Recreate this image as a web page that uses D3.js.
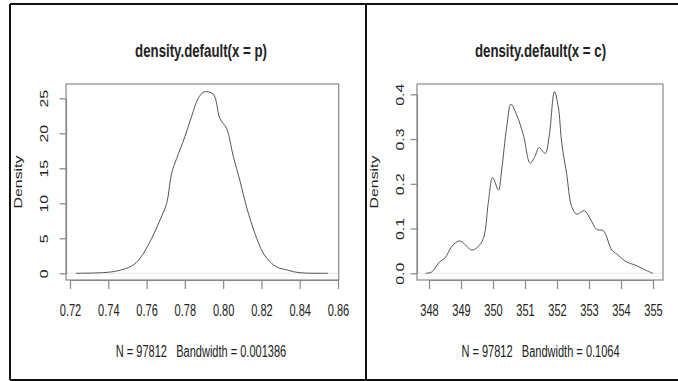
<!DOCTYPE html>
<html>
<head>
<meta charset="utf-8">
<script src="https://cdn.jsdelivr.net/npm/d3@7"></script>
<style>
  body { margin: 0; background: #fff; }
  text { font-family: "Liberation Sans", Arial, Helvetica, sans-serif; fill: #222; white-space: pre; }
</style>
</head>
<body>
<svg id="chart" width="678" height="381"></svg>
<script>
// density of p
const pX = [0.7231, 0.7374, 0.7444, 0.7522, 0.7565, 0.7627, 0.767, 0.7705, 0.7731, 0.7757, 0.780, 0.7835,
  0.787, 0.790, 0.7948, 0.7983, 0.8018, 0.8053, 0.8087, 0.8122, 0.8166, 0.8209, 0.8253, 0.8296, 0.8322,
  0.8366, 0.8418, 0.8548];
const pY = [0, 0.1, 0.33, 1.04, 2.1, 5.0, 7.6, 10.0, 14.3, 16.4, 19.5, 22.4,
  25.0, 25.9, 25.6, 22.1, 20.7, 16.7, 13.3, 9.5, 5.7, 2.9, 1.43, 0.71, 0.57,
  0.24, 0.05, 0];

// density of c
const cX = [347.9, 348.08, 348.34, 348.5, 348.71, 348.92, 349.02, 349.33, 349.51, 349.7, 349.85, 349.99,
  350.17, 350.27, 350.43, 350.56, 350.74, 350.95, 351.16, 351.31, 351.44, 351.63, 351.76, 351.92,
  352.04, 352.15, 352.3, 352.46, 352.62, 352.85, 353.03, 353.24, 353.45, 353.71, 353.87, 354.13,
  354.49, 354.8, 355.0];
const cY = [0, 0.003, 0.026, 0.034, 0.06, 0.072, 0.071, 0.052, 0.058, 0.078, 0.156, 0.214,
  0.186, 0.231, 0.328, 0.378, 0.354, 0.309, 0.246, 0.261, 0.281, 0.268, 0.309, 0.406,
  0.372, 0.29, 0.223, 0.149, 0.132, 0.14, 0.123, 0.098, 0.095, 0.052, 0.043, 0.027,
  0.017, 0.006, 0];

const pTicksX = [0.72, 0.74, 0.76, 0.78, 0.80, 0.82, 0.84, 0.86];
const pTicksY = [0, 5, 10, 15, 20, 25];
const cTicksX = [348, 349, 350, 351, 352, 353, 354, 355];
const cTicksY = [0, 0.1, 0.2, 0.3, 0.4];

const titles = ["density.default(x = p)", "density.default(x = c)"];
const subtitles = ["N = 97812   Bandwidth = 0.001386", "N = 97812   Bandwidth = 0.1064"];

const svg = d3.select("#chart");
const SQ = "scale(0.92,1.32)"; // the picture is stretched a bit

// outer frame and divider
svg.append("path")
  .attr("d", "M10,4H678M10,4V380M10,380H678M366,4V380")
  .attr("stroke", "#111").attr("stroke-width", 2).attr("fill", "none");

function panel(o) {
  const x = d3.scaleLinear().domain(o.xDom).range(o.xRange);
  const y = d3.scaleLinear().domain(o.yDom).range(o.yRange);
  const g = svg.append("g");

  // zero line
  g.append("line")
    .attr("x1", o.box[0]).attr("x2", o.box[2])
    .attr("y1", y(0)).attr("y2", y(0))
    .attr("stroke", "#e6e6e6");

  // box
  g.append("rect")
    .attr("x", o.box[0]).attr("y", o.box[1])
    .attr("width", o.box[2] - o.box[0]).attr("height", o.box[3] - o.box[1])
    .attr("fill", "none").attr("stroke", "#888").attr("stroke-width", 1.2);

  const xa = g.append("g")
    .attr("transform", `translate(0,${o.box[3]})`)
    .call(d3.axisBottom(x).tickValues(o.xTicks).tickFormat(o.xFmt).tickSize(9).tickSizeOuter(0));
  xa.selectAll("text")
    .attr("y", 0).attr("dy", "0.35em")
    .attr("transform", `translate(0,${o.xLab}) ${SQ}`);

  const ya = g.append("g")
    .attr("transform", `translate(${o.box[0]},0)`)
    .call(d3.axisLeft(y).tickValues(o.yTicks).tickFormat(o.yFmt).tickSize(6.5).tickSizeOuter(0));
  ya.selectAll("text")
    .attr("x", 0).attr("dy", "0.35em").attr("text-anchor", "middle")
    .attr("transform", `translate(${o.yLab},0) ${SQ} rotate(-90)`);

  g.selectAll(".domain, .tick line").attr("stroke", "#888").attr("stroke-width", 1.2);
  g.selectAll(".tick text").attr("font-size", 12).attr("fill", "#222")
    .attr("font-family", "Liberation Sans, Arial, sans-serif");

  // density curve
  const line = d3.line()
    .x((d, i) => x(o.xs[i]))
    .y(d => y(d))
    .curve(d3.curveCatmullRom.alpha(0.5));
  g.append("path")
    .attr("d", line(o.ys))
    .attr("fill", "none").attr("stroke", "#555").attr("stroke-width", 1);

  g.append("text")
    .attr("transform", `translate(${o.cx},50) ${SQ}`)
    .attr("text-anchor", "middle").attr("dy", "0.35em")
    .attr("font-size", 14.4).attr("font-weight", "bold")
    .text(o.title);

  g.append("text")
    .attr("transform", `translate(${o.cx},351) ${SQ}`)
    .attr("text-anchor", "middle").attr("dy", "0.35em")
    .attr("xml:space", "preserve")
    .attr("font-size", 12)
    .text(o.sub);

  g.append("text")
    .attr("transform", `translate(${o.dx},182) ${SQ} rotate(-90)`)
    .attr("text-anchor", "middle").attr("dy", "0.35em")
    .attr("font-size", 12)
    .text("Density");
}

panel({
  xDom: [0.72, 0.86], xRange: [70, 338], yDom: [0, 25], yRange: [273.3, 98.3],
  box: [66, 84, 338.7, 280], xTicks: pTicksX, yTicks: pTicksY,
  xFmt: d3.format(".2f"), yFmt: d3.format("d"), xLab: 30.7, yLab: -21.5,
  xs: pX, ys: pY, title: titles[0], sub: subtitles[0], cx: 201, dx: 18
});

panel({
  xDom: [348, 355], xRange: [429, 653], yDom: [0, 0.4], yRange: [273.3, 94.3],
  box: [417, 84, 663, 280], xTicks: cTicksX, yTicks: cTicksY,
  xFmt: d3.format("d"), yFmt: d3.format(".1f"), xLab: 30.7, yLab: -17,
  xs: cX, ys: cY, title: titles[1], sub: subtitles[1], cx: 540.5, dx: 374
});
</script>
</body>
</html>
